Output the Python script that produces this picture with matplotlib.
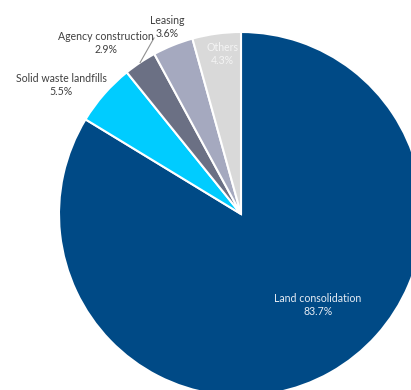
import numpy as np
import matplotlib.pyplot as plt

labels = ['Land consolidation', 'Solid waste landfills', 'Agency construction', 'Leasing', 'Others']
shares = [83.7, 5.5, 2.9, 3.6, 4.3]
colors = ['#004A86', '#00CCFF', '#6B7084', '#A5A9BF', '#D9D9D9']
# label anchors in pixel coords (x, y from top) and text colours
label_pos = [(318, 305), (61, 85), (106, 43), (167, 27), (222, 54)]
label_col = ['#E6ECF4', '#404040', '#404040', '#404040', '#F4F4F4']

W, H = 411, 390
cx, cy, r = 241, 214, 182

plt.rcParams['font.family'] = ['Lato', 'DejaVu Sans']
fig = plt.figure(figsize=(W / 100, H / 100), dpi=100)
ax = fig.add_axes([0, 0, 1, 1])

wedges, _ = ax.pie(shares, colors=colors, startangle=90, counterclock=False,
                   center=(cx, H - cy), radius=r,
                   wedgeprops=dict(edgecolor='white', linewidth=1.5))
ax.set_xlim(0, W)
ax.set_ylim(0, H)
ax.set_aspect('equal')
ax.axis('off')

for lab, val, (x, y), c in zip(labels, shares, label_pos, label_col):
    ax.text(x, H - y, f'{lab}\n{val}%', ha='center', va='center',
            fontsize=7.6, color=c, linespacing=1.3)

# leader line for the agency slice
w = wedges[2]
mid = np.deg2rad((w.theta1 + w.theta2) / 2)
x0 = cx + r * np.cos(mid)
y0 = H - cy + r * np.sin(mid)
ax.plot([x0, 154], [y0, H - 38], color='#909090', lw=0.8)

fig.savefig('out.png', dpi=100)
